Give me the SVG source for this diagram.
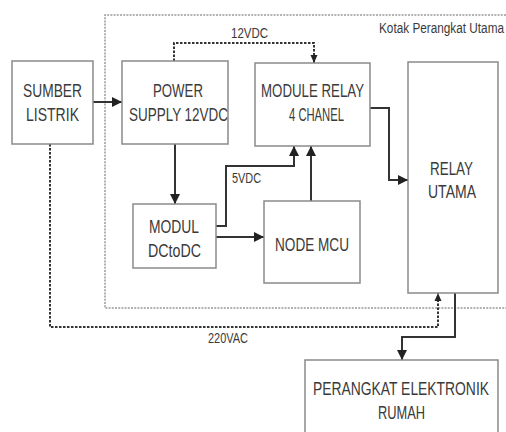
<svg xmlns="http://www.w3.org/2000/svg" width="506" height="432" viewBox="0 0 506 432">
<style>
.box{fill:#fff;stroke:#8a8a8a;stroke-width:1.5}
.t{font-family:"Liberation Sans Narrow","Liberation Sans",Arial,sans-serif;fill:#3a3a3a;font-size:19px}
.s{font-size:14px}
.ln{fill:none;stroke:#333;stroke-width:2}
.dl{fill:none;stroke:#333;stroke-width:2;stroke-dasharray:2.5 1.5}
.frame{fill:none;stroke:#9a9a9a;stroke-width:1.5;stroke-dasharray:2 1.2}
</style>
<defs>
<marker id="ah" markerUnits="userSpaceOnUse" markerWidth="10" markerHeight="10" refX="10" refY="5" orient="auto">
<path d="M0,0 L10,5 L0,10 z" fill="#222"/>
</marker>
<marker id="ahs" markerUnits="userSpaceOnUse" markerWidth="8" markerHeight="8" refX="8" refY="4" orient="auto">
<path d="M0,0.5 L8,4 L0,7.5 z" fill="#222"/>
</marker>
</defs>
<rect width="506" height="432" fill="#fff"/>
<g id="frame">
<path class="frame" d="M506,15 H105 V308 H506"/>
<text class="t s" x="379" y="33" textLength="125" lengthAdjust="spacingAndGlyphs">Kotak Perangkat Utama</text>
</g>
<g id="connectors">
<path class="ln" d="M93,102 H122" marker-end="url(#ah)"/>
<path class="dl" d="M174,61 V43 H314 V63" marker-end="url(#ahs)"/>
<text class="t s" x="231" y="38" textLength="37" lengthAdjust="spacingAndGlyphs">12VDC</text>
<path class="ln" d="M175,144 V204" marker-end="url(#ah)"/>
<path class="ln" d="M216,226 H226 V166 H294 V146" marker-end="url(#ah)"/>
<text class="t s" x="232" y="183" textLength="29" lengthAdjust="spacingAndGlyphs">5VDC</text>
<path class="ln" d="M216,237 H264" marker-end="url(#ah)"/>
<path class="ln" d="M311,201 V146" marker-end="url(#ah)"/>
<path class="ln" d="M370,108 H389 V180 H408" marker-end="url(#ah)"/>
<path class="dl" d="M50,144 V327 H438 V293" marker-end="url(#ahs)"/>
<text class="t s" x="208" y="343" textLength="40" lengthAdjust="spacingAndGlyphs">220VAC</text>
<path class="ln" d="M455,293 V337 H402 V360" marker-end="url(#ah)"/>
</g>
<g id="sumber">
<rect class="box" x="12" y="61" width="81" height="83"/>
<text class="t" x="23" y="97" textLength="59" lengthAdjust="spacingAndGlyphs">SUMBER</text>
<text class="t" x="26" y="121" textLength="53" lengthAdjust="spacingAndGlyphs">LISTRIK</text>
</g>
<g id="power">
<rect class="box" x="122" y="61" width="106" height="83"/>
<text class="t" x="153" y="97" textLength="50" lengthAdjust="spacingAndGlyphs">POWER</text>
<text class="t" x="129" y="121" textLength="99" lengthAdjust="spacingAndGlyphs">SUPPLY 12VDC</text>
</g>
<g id="relay4">
<rect class="box" x="255" y="63" width="115" height="83"/>
<text class="t" x="261" y="97" textLength="103" lengthAdjust="spacingAndGlyphs">MODULE RELAY</text>
<text class="t" x="289" y="121" textLength="55" lengthAdjust="spacingAndGlyphs">4 CHANEL</text>
</g>
<g id="relayutama">
<rect class="box" x="408" y="62" width="90" height="231"/>
<text class="t" x="430" y="175" textLength="43" lengthAdjust="spacingAndGlyphs">RELAY</text>
<text class="t" x="428" y="198" textLength="48" lengthAdjust="spacingAndGlyphs">UTAMA</text>
</g>
<g id="dcdc">
<rect class="box" x="133" y="204" width="83" height="64"/>
<text class="t" x="149" y="233" textLength="50" lengthAdjust="spacingAndGlyphs">MODUL</text>
<text class="t" x="148" y="257" textLength="53" lengthAdjust="spacingAndGlyphs">DCtoDC</text>
</g>
<g id="nodemcu">
<rect class="box" x="264" y="201" width="96" height="82"/>
<text class="t" x="275" y="251" textLength="74" lengthAdjust="spacingAndGlyphs">NODE MCU</text>
</g>
<g id="perangkat">
<path class="box" d="M305,432 V360 H498 V432"/>
<text class="t" x="313" y="395" textLength="176" lengthAdjust="spacingAndGlyphs">PERANGKAT ELEKTRONIK</text>
<text class="t" x="378" y="419" textLength="47" lengthAdjust="spacingAndGlyphs">RUMAH</text>
</g>
</svg>
